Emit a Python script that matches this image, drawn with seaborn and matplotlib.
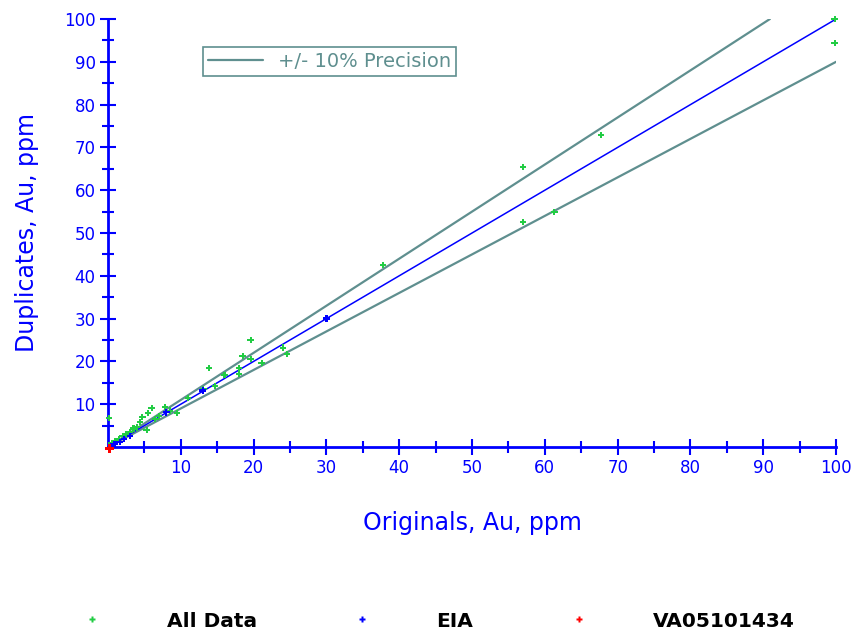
import numpy as np
import seaborn as sns
import matplotlib.pyplot as plt
from matplotlib.lines import Line2D

# original vs duplicate assays (Au, ppm)
all_x = [0.1, 0.5, 1.0, 1.5, 2.0, 2.5, 3.0, 3.5, 4.0, 4.4, 4.7, 5.3, 5.5, 6.0, 6.5,
         7.0, 7.8, 8.5, 9.5, 11.0, 13.1, 13.9, 14.7, 16.0, 18.0, 18.0, 18.5, 19.6,
         19.6, 21.1, 24.0, 24.6, 30.0, 37.8, 57.0, 57.0, 61.3, 67.7, 99.8, 99.8]
all_y = [6.8, 0.8, 1.4, 1.9, 2.6, 3.0, 3.5, 4.3, 4.6, 5.8, 7.0, 4.0, 7.9, 9.1, 6.5,
         7.2, 9.3, 8.5, 7.9, 11.4, 13.6, 18.5, 14.3, 16.8, 18.5, 17.0, 21.3, 25.0,
         20.6, 19.6, 23.2, 21.7, 30.1, 42.5, 65.4, 52.6, 54.9, 72.9, 100.0, 94.4]
eia_x = [0.4, 0.9, 1.6, 2.2, 3.0, 8.0, 13.0, 30.0]
eia_y = [0.2, 0.6, 1.2, 1.9, 2.6, 8.1, 13.2, 30.0]
va_x = [0.2]
va_y = [-0.4]
precision = 0.10
series = ['All Data', 'EIA', 'VA05101434']

blue = '#0000ff'
teal = '#5f8f8f'
green = '#22cc44'
red = '#ff0000'

sns.set_style('white')
fig = plt.figure(figsize=(8.54, 6.34), dpi=100)
ax = fig.add_axes([0.1265, 0.295, 0.8525, 0.675])

# precision lines
ax.plot([0, 100 / (1 + precision)], [0, 100], color=teal, lw=1.6, label='+/- 10% Precision')
ax.plot([0, 100], [0, 100 * (1 - precision)], color=teal, lw=1.6)
ax.plot([0, 100], [0, 100], color=blue, lw=1.1)

sns.scatterplot(x=all_x, y=all_y, ax=ax, marker='P', s=22, color=green,
                edgecolor='none', zorder=3, legend=False, clip_on=False)
sns.scatterplot(x=eia_x, y=eia_y, ax=ax, marker='P', s=22, color=blue,
                edgecolor='none', zorder=4, legend=False, clip_on=False)
sns.scatterplot(x=va_x, y=va_y, ax=ax, marker='P', s=40, color=red,
                edgecolor='none', zorder=5, legend=False, clip_on=False)

ax.set_xlim(0, 100)
ax.set_ylim(0, 100)
ax.set_xticks(np.arange(10, 101, 10))
ax.set_yticks(np.arange(10, 101, 10))
ax.set_xticks(np.arange(5, 101, 5), minor=True)
ax.set_yticks(np.arange(5, 101, 5), minor=True)
ax.tick_params(axis='both', which='both', direction='inout', color=blue,
               labelcolor=blue, labelsize=12, width=1.5, bottom=True, left=True)
ax.tick_params(which='major', length=11)
ax.tick_params(which='minor', length=9)
for side in ['top', 'right']:
    ax.spines[side].set_visible(False)
for side in ['left', 'bottom']:
    ax.spines[side].set_color(blue)
    ax.spines[side].set_linewidth(2)

ax.set_xlabel('Originals, Au, ppm', color=blue, fontsize=17, labelpad=24)
ax.set_ylabel('Duplicates, Au, ppm', color=blue, fontsize=17, labelpad=18)

leg = ax.legend(loc='upper left', bbox_to_anchor=(0.131, 0.935), fancybox=False,
                framealpha=1, edgecolor=teal, fontsize=14, handlelength=2.8,
                handletextpad=0.8, borderpad=0.25, borderaxespad=0)
leg.get_frame().set_linewidth(1.2)
for t in leg.get_texts():
    t.set_color(teal)

# series key under the chart, one entry per legend
for name, c, xpos in zip(series, [green, blue, red], [0.096, 0.412, 0.666]):
    h = Line2D([], [], ls='none', marker='P', ms=5, color=c, mec='none')
    fig.legend([h], [name], loc='center left', bbox_to_anchor=(xpos, 0.0205),
               frameon=False, handlelength=1, handletextpad=3.2, borderpad=0,
               borderaxespad=0, labelcolor='black',
               prop={'family': 'DejaVu Sans', 'weight': 'bold', 'size': 14.5})

fig.savefig('out.png', dpi=100)
